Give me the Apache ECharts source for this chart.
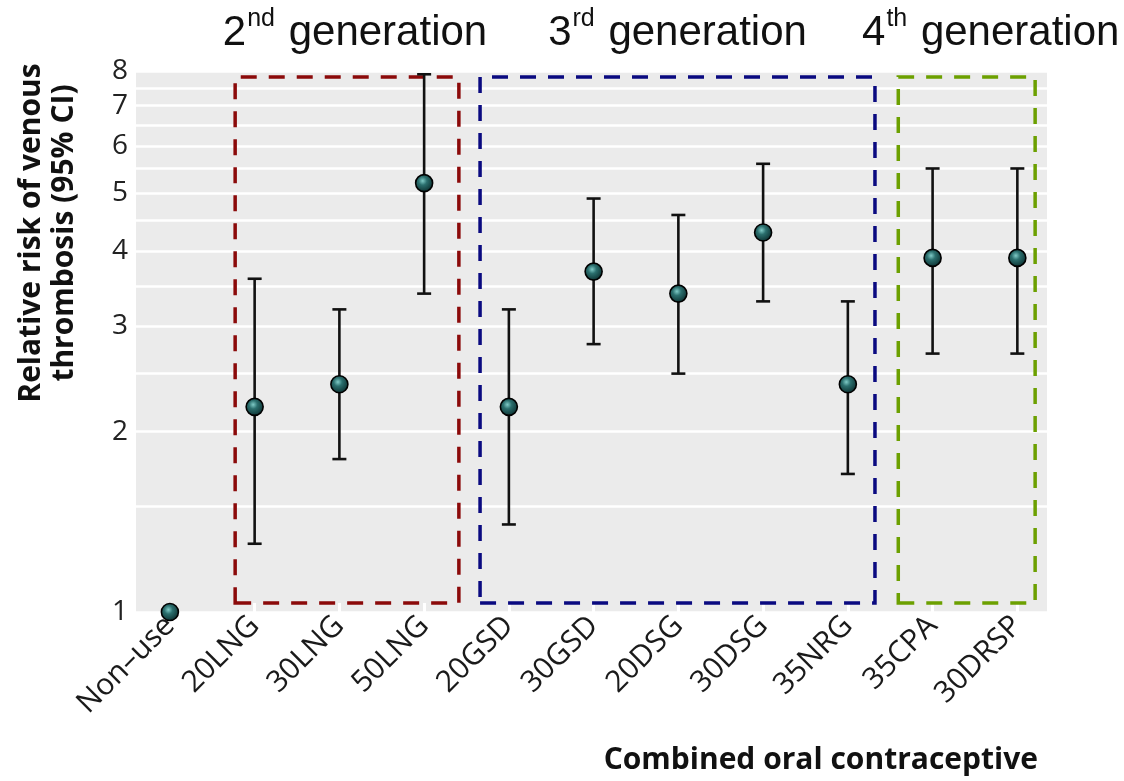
<!DOCTYPE html>
<html>
<head>
<meta charset="utf-8">
<script src="https://cdn.jsdelivr.net/npm/echarts@6/dist/echarts.min.js"></script>
<style>html,body{margin:0;padding:0;background:#fff}#c{width:1124px;height:781px}</style>
</head>
<body>
<div id="c"></div>
<script>
// ---- data ----
const categories = ['Non\u2013use','20LNG','30LNG','50LNG','20GSD','30GSD','20DSG','30DSG','35NRG','35CPA','30DRSP'];
const relRisk   = [1, 2.2, 2.4, 5.2, 2.2, 3.7, 3.4, 4.3, 2.4, 3.9, 3.9];
const ciLow     = [null, 1.3, 1.8, 3.4, 1.4, 2.8, 2.5, 3.3, 1.7, 2.7, 2.7];
const ciHigh    = [null, 3.6, 3.2, 7.9, 3.2, 4.9, 4.6, 5.6, 3.3, 5.5, 5.5];
const yTickLabels = [1, 2, 3, 4, 5, 6, 7, 8];
const yGridValues = [1, 1.5, 2, 2.5, 3, 3.5, 4, 4.5, 5, 5.5, 6, 6.5, 7, 7.5, 8];
// generation groups
const genNames  = ['2', '3', '4'];
const genSup    = ['nd', 'rd', 'th'];
const genFrom   = [1.77, 4.66, 9.595];
const genTo     = [4.41, 9.32, 11.21];
const genLow    = [1.035, 1.035, 1.035];
const genHigh   = [7.82, 7.82, 7.82];
const genColors = ['#8b0a0a', '#0a0a80', '#6ca000'];
const genLabelOffset = [8, 0, 24];

const xPos = categories.map((_, i) => i + 1);
const pointData = xPos.map((x, i) => [x, relRisk[i]]);
const barData = [];
xPos.forEach((x, i) => { if (ciLow[i] != null) barData.push([x, ciLow[i], ciHigh[i]]); });

const markAreaData = genNames.map((g, i) => [
  {
    xAxis: genFrom[i], yAxis: genLow[i],
    itemStyle: { color: 'rgba(0,0,0,0)', borderColor: genColors[i], borderWidth: 3.5, borderType: [16, 12] },
    label: {
      show: true, position: 'top', distance: 21, offset: [genLabelOffset[i], 0],
      formatter: '{a|' + g + '}{s|' + genSup[i] + '}{a| generation}',
      rich: {
        a: { fontFamily: 'Liberation Sans', fontSize: 42, color: '#111', lineHeight: 48, verticalAlign: 'bottom' },
        s: { fontFamily: 'Liberation Sans', fontSize: 25, color: '#111', lineHeight: 48, verticalAlign: 'top', padding: [0, 2, 0, 1] }
      }
    }
  },
  { xAxis: genTo[i], yAxis: genHigh[i] }
]);

const chart = echarts.init(document.getElementById('c'), null, { renderer: 'canvas' });

function renderErr(params, api) {
  const x = api.value(0);
  const lo = api.coord([x, api.value(1)]);
  const hi = api.coord([x, api.value(2)]);
  const hw = 7;
  const st = { stroke: '#111', lineWidth: 2.6 };
  return {
    type: 'group',
    children: [
      { type: 'line', shape: { x1: lo[0], y1: lo[1], x2: hi[0], y2: hi[1] }, style: st },
      { type: 'line', shape: { x1: lo[0] - hw, y1: lo[1], x2: lo[0] + hw, y2: lo[1] }, style: st },
      { type: 'line', shape: { x1: hi[0] - hw, y1: hi[1], x2: hi[0] + hw, y2: hi[1] }, style: st }
    ]
  };
}

chart.setOption({
  animation: false,
  backgroundColor: '#fff',
  grid: {
    left: 136, right: 77, top: 71, bottom: 169,
    show: true, backgroundColor: '#ebebeb', borderWidth: 0,
    containLabel: false, outerBoundsMode: 'none'
  },
  xAxis: {
    type: 'value', min: 0.6, max: 11.35,
    axisLine: { show: false },
    splitLine: { show: false },
    axisTick: { show: true, inside: true, length: 9, customValues: xPos, lineStyle: { color: '#fff', width: 3 } },
    axisLabel: {
      customValues: xPos, rotate: 45, margin: 9,
      fontFamily: 'Open Sans', fontSize: 30, color: '#1a1a1a',
      formatter: v => categories[Math.round(v) - 1]
    }
  },
  yAxis: {
    type: 'log', logBase: 10, min: 1, max: 8,
    axisLine: { show: false },
    axisTick: { show: false, customValues: yGridValues },
    splitLine: { show: true, lineStyle: { color: '#fff', width: 2.5 } },
    axisLabel: {
      customValues: yTickLabels, margin: 8,
      fontFamily: 'Open Sans', fontSize: 28, color: '#222',
      formatter: v => String(Math.round(v))
    }
  },
  graphic: [
    {
      type: 'text', x: 48, y: 233, rotation: Math.PI / 2,
      style: {
        text: 'Relative risk of venous\nthrombosis (95% CI)',
        fontFamily: 'Open Sans', fontWeight: 'bold', fontSize: 30, lineHeight: 33,
        fill: '#111', align: 'center', verticalAlign: 'middle'
      }
    },
    {
      type: 'text', x: 1038, y: 760,
      style: {
        text: 'Combined oral contraceptive',
        fontFamily: 'Open Sans', fontWeight: 'bold', fontSize: 30,
        fill: '#111', align: 'right', verticalAlign: 'middle'
      }
    }
  ],
  series: [
    {
      type: 'custom', renderItem: renderErr, data: barData, clip: false, z: 3,
      encode: { x: 0, y: [1, 2] }
    },
    {
      type: 'scatter', data: pointData, symbolSize: 17, clip: false, z: 4,
      itemStyle: {
        borderColor: '#000', borderWidth: 1.6, opacity: 1,
        color: {
          type: 'radial', x: 0.42, y: 0.38, r: 0.65,
          colorStops: [
            { offset: 0, color: '#7fcac6' },
            { offset: 0.35, color: '#2b6f6e' },
            { offset: 1, color: '#092a2a' }
          ]
        }
      },
      markArea: { silent: true, z: 2, data: markAreaData }
    }
  ]
});
</script>
</body>
</html>
